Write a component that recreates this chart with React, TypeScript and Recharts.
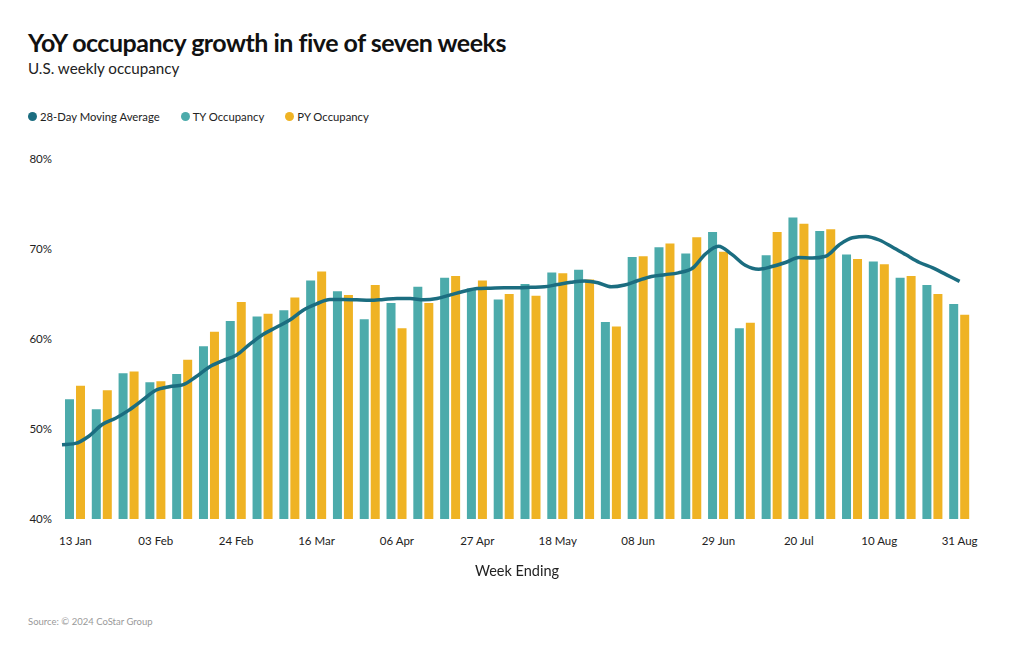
import React from "react";
import {
  ComposedChart,
  Bar,
  Line,
  XAxis,
  YAxis,
} from "recharts";

const weeks = [
  "13 Jan", "20 Jan", "27 Jan", "03 Feb", "10 Feb", "17 Feb", "24 Feb",
  "02 Mar", "09 Mar", "16 Mar", "23 Mar", "30 Mar", "06 Apr", "13 Apr",
  "20 Apr", "27 Apr", "04 May", "11 May", "18 May", "25 May", "01 Jun",
  "08 Jun", "15 Jun", "22 Jun", "29 Jun", "06 Jul", "13 Jul", "20 Jul",
  "27 Jul", "03 Aug", "10 Aug", "17 Aug", "24 Aug", "31 Aug",
];

const tyOccupancy = [
  53.3, 52.2, 56.2, 55.2, 56.1, 59.2, 62.0, 62.5, 63.2, 66.5, 65.3,
  62.2, 64.0, 65.8, 66.8, 65.6, 64.4, 66.1, 67.4, 67.7, 61.9, 69.1, 70.2,
  69.5, 71.9, 61.2, 69.3, 73.5, 72.0, 69.4, 68.6, 66.8, 66.0, 63.9,
];

const pyOccupancy = [
  54.8, 54.3, 56.4, 55.3, 57.7, 60.8, 64.1, 62.8, 64.6, 67.5, 64.9,
  66.0, 61.2, 64.0, 67.0, 66.5, 65.0, 64.8, 67.3, 66.6, 61.4, 69.2, 70.6,
  71.3, 69.7, 61.8, 71.9, 72.8, 72.2, 68.9, 68.3, 67.0, 65.0, 62.7,
];

// moving average sampled every half week (week index)
const maWeek = [
  -0.5, 0, 0.5, 1, 1.5, 2, 2.5, 3, 3.5, 4, 4.5, 5, 5.5, 6, 6.5, 7, 7.5, 8,
  8.5, 9, 9.5, 10, 10.5, 11, 11.5, 12, 12.5, 13, 13.5, 14, 14.5, 15, 15.5,
  16, 16.5, 17, 17.5, 18, 18.5, 19, 19.5, 20, 20.5, 21, 21.5, 22, 22.5, 23,
  23.5, 24, 24.5, 25, 25.5, 26, 26.5, 27, 27.5, 28, 28.5, 29, 29.5, 30,
  30.5, 31, 31.5, 32, 32.5, 33,
];

const maValues = [
  48.25, 48.4, 49.2, 50.5, 51.2, 52.1, 53.2, 54.3, 54.7, 54.9, 55.8, 56.9,
  57.6, 58.2, 59.4, 60.5, 61.3, 62.1, 63.2, 63.9, 64.4, 64.4, 64.35, 64.3,
  64.4, 64.5, 64.5, 64.35, 64.5, 64.9, 65.3, 65.6, 65.65, 65.7, 65.7, 65.75,
  65.8, 66.05, 66.3, 66.45, 66.25, 65.8, 66.0, 66.5, 66.95, 67.15, 67.35, 67.8,
  69.4, 70.3, 69.4, 68.2, 67.75, 68.05, 68.5, 69.05, 69.0, 69.2, 70.45, 71.25,
  71.4, 71.0, 70.2, 69.35, 68.5, 67.9, 67.15, 66.4,
];

const yTicks = [40, 50, 60, 70, 80];

const barData = weeks.map((week, i) => ({
  week,
  ty: tyOccupancy[i],
  py: pyOccupancy[i],
}));

const lineData = maWeek.map((t, i) => ({ t, ma: maValues[i] }));

const FONT = "Lato, 'Noto Sans', sans-serif";
const MA_COLOR = "#1b6d80";
const TY_COLOR = "#4cabab";
const PY_COLOR = "#efb324";

function LegendItem({ color, label }: { color: string; label: string }) {
  return (
    <span style={{ display: "inline-flex", alignItems: "center", marginRight: 21 }}>
      <span
        style={{
          width: 9,
          height: 9,
          borderRadius: "50%",
          background: color,
          display: "inline-block",
          marginRight: 3,
        }}
      />
      {label}
    </span>
  );
}

export default function App() {
  return (
    <div
      style={{
        position: "fixed",
        left: 0,
        top: 0,
        width: 1020,
        height: 650,
        background: "#fff",
        fontFamily: FONT,
        color: "#111",
      }}
    >
      <div
        style={{
          position: "absolute",
          left: 28,
          top: 27,
          fontSize: 25,
          fontWeight: 700,
          letterSpacing: -0.5,
          whiteSpace: "nowrap",
        }}
      >
        YoY occupancy growth in five of seven weeks
      </div>
      <div
        style={{ position: "absolute", left: 28, top: 59, fontSize: 15.2, color: "#222" }}
      >
        U.S. weekly occupancy
      </div>
      <div
        style={{
          position: "absolute",
          left: 28,
          top: 110,
          fontSize: 11.3,
          color: "#222",
          display: "flex",
        }}
      >
        <LegendItem color={MA_COLOR} label="28-Day Moving Average" />
        <LegendItem color={TY_COLOR} label="TY Occupancy" />
        <LegendItem color={PY_COLOR} label="PY Occupancy" />
      </div>

      <div style={{ position: "absolute", left: 0, top: 0 }}>
        <ComposedChart
          width={1020}
          height={650}
          data={barData}
          margin={{ top: 159, right: 47, bottom: 101, left: 12 }}
          barGap={2}
        >
          <XAxis
            xAxisId="cat"
            dataKey="week"
            interval={2}
            axisLine={false}
            tickLine={false}
            tickSize={0}
            tickMargin={18}
            height={30}
            tick={{ fill: "#222", fontSize: 11.5, fontFamily: FONT }}
          />
          <XAxis
            xAxisId="t"
            dataKey="t"
            type="number"
            domain={[-0.5, 33.5]}
            hide
          />
          <YAxis
            domain={[40, 80]}
            ticks={yTicks}
            width={50}
            axisLine={false}
            tickLine={false}
            tickSize={0}
            tickMargin={10}
            tickFormatter={(v: number) => `${v}%`}
            tick={{ fill: "#222", fontSize: 11.5, fontFamily: FONT }}
          />
          <Bar
            xAxisId="cat"
            dataKey="ty"
            name="TY Occupancy"
            fill={TY_COLOR}
            barSize={9}
            isAnimationActive={false}
          />
          <Bar
            xAxisId="cat"
            dataKey="py"
            name="PY Occupancy"
            fill={PY_COLOR}
            barSize={9}
            isAnimationActive={false}
          />
          <Line
            xAxisId="t"
            data={lineData}
            dataKey="ma"
            type="monotone"
            stroke={MA_COLOR}
            strokeWidth={3.5}
            dot={false}
            name="28-Day Moving Average"
            isAnimationActive={false}
          />
        </ComposedChart>
      </div>

      <div
        style={{
          position: "absolute",
          left: 0,
          width: 1034,
          top: 562,
          textAlign: "center",
          fontSize: 14.5,
          color: "#222",
        }}
      >
        Week Ending
      </div>
      <div
        style={{ position: "absolute", left: 28, top: 616, fontSize: 9.5, color: "#999" }}
      >
        Source: © 2024 CoStar Group
      </div>
    </div>
  );
}
